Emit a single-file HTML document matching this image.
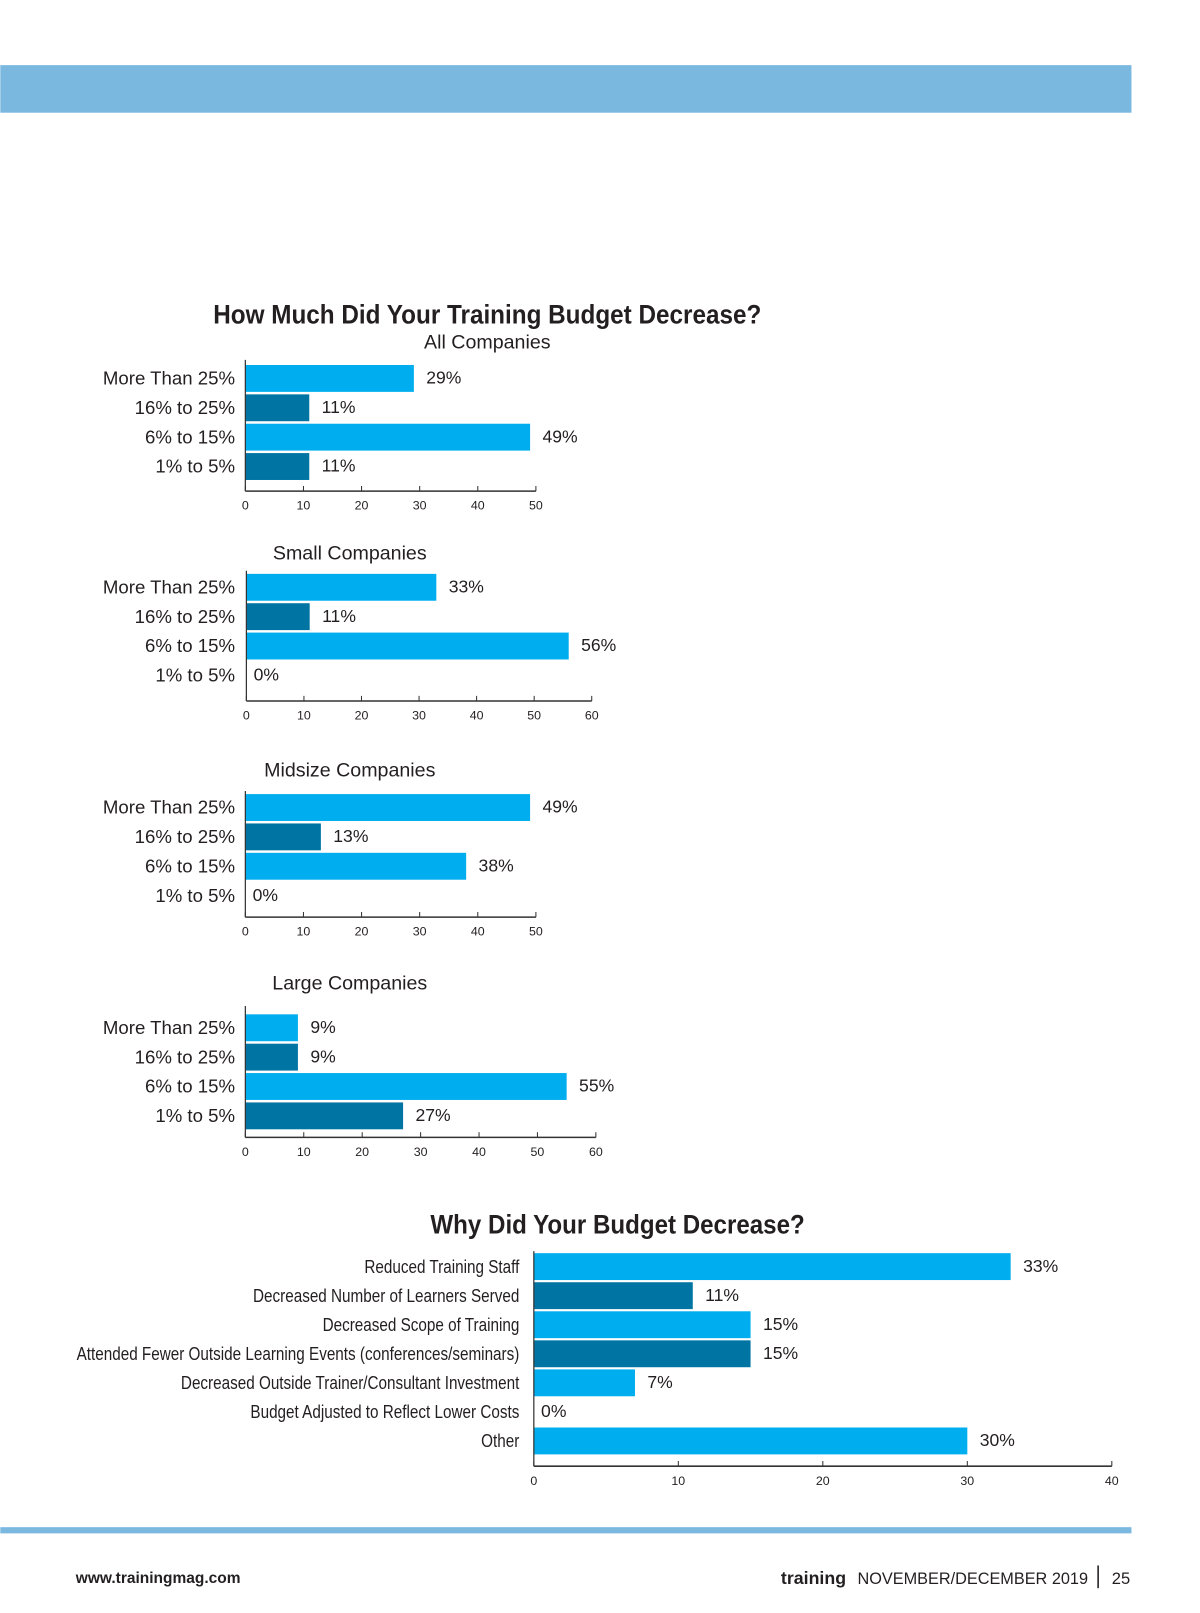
<!DOCTYPE html>
<html><head><meta charset="utf-8"><style>
html,body{margin:0;padding:0;background:#fff;}
svg{display:block;}
text{font-family:"Liberation Sans",sans-serif;fill:#231f20;}
.cond{font-family:"Liberation Sans Narrow","Liberation Sans",sans-serif;}
</style></head><body>
<svg id="page" width="1200" height="1613" viewBox="0 0 1160 1560" xmlns="http://www.w3.org/2000/svg">
<rect x="0" y="63" width="1094" height="46" fill="#7ab8e0"/>
<text class="cond" x="471" y="313" text-anchor="middle" font-size="26" font-weight="bold" textLength="530" lengthAdjust="spacingAndGlyphs">How Much Did Your Training Budget Decrease?</text>
<text class="cond" x="597" y="1193" text-anchor="middle" font-size="26" font-weight="bold" textLength="362" lengthAdjust="spacingAndGlyphs">Why Did Your Budget Decrease?</text>
<g id="charts"></g>
<rect x="0" y="1477" width="1094" height="6" fill="#7ab8e0"/>
<text x="73" y="1531" font-size="15" font-weight="bold" font-family="Liberation Serif">www.trainingmag.com</text>
<text x="755" y="1532" font-size="17" font-weight="bold" class="cond" textLength="63" lengthAdjust="spacingAndGlyphs">training</text>
<text x="829" y="1532" font-size="16" class="cond" textLength="223" lengthAdjust="spacingAndGlyphs">NOVEMBER/DECEMBER 2019</text>
<rect x="1061" y="1514" width="1.5" height="22" fill="#231f20"/>
<text x="1075" y="1532" font-size="16">25</text>
</svg>
<script>
const bandCats = ["More Than 25%","16% to 25%","6% to 15%","1% to 5%"];
const allVals = [29,11,49,11];
const smallVals = [33,11,56,0];
const midVals = [49,13,38,0];
const largeVals = [9,9,55,27];
const ticks50 = [0,10,20,30,40,50];
const ticks60 = [0,10,20,30,40,50,60];
const reasonCats = ["Reduced Training Staff","Decreased Number of Learners Served","Decreased Scope of Training","Attended Fewer Outside Learning Events (conferences/seminars)","Decreased Outside Trainer/Consultant Investment","Budget Adjusted to Reflect Lower Costs","Other"];
const reasonVals = [33,11,15,15,7,0,30];
const ticks40 = [0,10,20,30,40];

const NS="http://www.w3.org/2000/svg";
const root=document.getElementById('charts');
function mk(tag,attrs,parent,txt){const e=document.createElementNS(NS,tag);for(const k in attrs)e.setAttribute(k,attrs[k]);if(txt!==undefined)e.textContent=txt;parent.appendChild(e);return e;}
const LIGHT="#00aeef",DARK="#0075a3";

function chart(cfg){
  const g=mk('g',{},root);
  
  
  const max=cfg.ticks[cfg.ticks.length-1];
  const x=v=>cfg.x0+(v/max)*(cfg.x1-cfg.x0);
  const y=i=>cfg.yFirst+i*cfg.step;
  if(cfg.subtitle){
    const st=mk('text',{x:cfg.subX,y:cfg.subY,'text-anchor':'middle','font-size':19},g,cfg.subtitle);
    
    
  }
  cfg.cats.forEach((c,i)=>{
    const yc=y(i);
    const lab=mk('text',{x:cfg.labelX,y:yc+6,'text-anchor':'end','font-size':cfg.labelSize},g,c);
    
    
    if(cfg.cond){
      const w=lab.getComputedTextLength();
      lab.setAttribute('textLength', (w*0.82).toFixed(1));
      lab.setAttribute('lengthAdjust', 'spacingAndGlyphs');
    }
    const v=cfg.vals[i];
    if(v>0){
      const r=mk('rect',{x:x(0),y:yc-13,width:x(v)-x(0),height:26,fill:i%2===0?LIGHT:DARK},g);
      
      
    }
    const vl=mk('text',{x:x(v)+(v>0?12:7),y:yc+5,'font-size':17},g,v+'%');
    
    
  });
  const ya=mk('line',{x1:x(0),x2:x(0),y1:cfg.axTop,y2:cfg.axY,stroke:'#333','stroke-width':1.2},g);
  
  
  const xa=mk('line',{x1:x(0),x2:x(max),y1:cfg.axY,y2:cfg.axY,stroke:'#333','stroke-width':1.5},g);
  
  
  cfg.ticks.forEach(t=>{
    const tk=mk('line',{x1:x(t),x2:x(t),y1:cfg.axY-5,y2:cfg.axY,stroke:'#333','stroke-width':1},g);
    
    
    const tl=mk('text',{x:x(t),y:cfg.axY+18,'text-anchor':'middle','font-size':12},g,t);
    
    
  });
}
chart({name:'all-companies-chart',subtitle:'All Companies',subX:471,subY:337,cats:bandCats,vals:allVals,ticks:ticks50,x0:237,x1:518,yFirst:366,step:28.4,axTop:348,axY:475,labelX:227,labelSize:18});
chart({name:'small-companies-chart',subtitle:'Small Companies',subX:338,subY:541,cats:bandCats,vals:smallVals,ticks:ticks60,x0:238,x1:572,yFirst:568,step:28.4,axTop:552,axY:678,labelX:227,labelSize:18});
chart({name:'midsize-companies-chart',subtitle:'Midsize Companies',subX:338,subY:751,cats:bandCats,vals:midVals,ticks:ticks50,x0:237,x1:518,yFirst:781,step:28.4,axTop:765,axY:887,labelX:227,labelSize:18});
chart({name:'large-companies-chart',subtitle:'Large Companies',subX:338,subY:957,cats:bandCats,vals:largeVals,ticks:ticks60,x0:237,x1:576,yFirst:994,step:28.4,axTop:973,axY:1100,labelX:227,labelSize:18});
chart({name:'reasons-chart',subtitle:null,cats:reasonCats,vals:reasonVals,ticks:ticks40,x0:516,x1:1075,yFirst:1225,step:28.1,axTop:1210,axY:1418,labelX:502,labelSize:18,cond:true});
</script>
</body></html>
